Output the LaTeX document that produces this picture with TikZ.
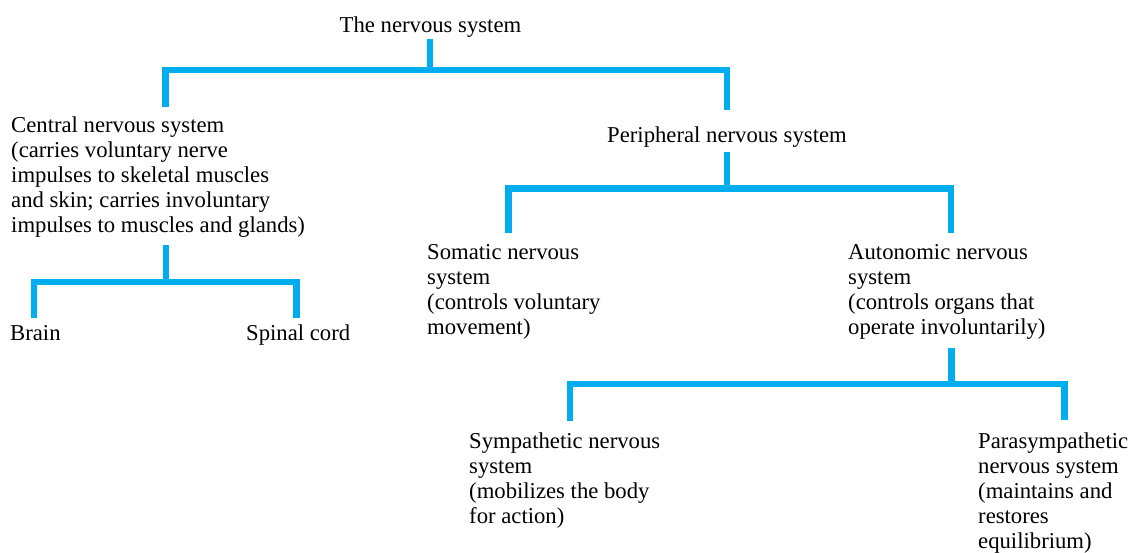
\documentclass[tikz,border=0pt]{standalone}
\usepackage{fontspec}
\setmainfont{Liberation Serif}
\definecolor{nsblue}{RGB}{0,174,239}
\begin{document}
\begin{tikzpicture}[x=1pt,y=1pt,
  lbl/.style={anchor=north west,inner sep=0pt,align=left,font=\fontsize{22.7}{25}\selectfont},
  conn/.style={draw=nsblue,line width=6.5pt,line join=miter,line cap=butt}]
\useasboundingbox (0,0) rectangle (1130,-553);
% texts
\node[lbl,anchor=north] (root) at (430.5,-16.5) {The nervous system};
\node[lbl] (cns) at (11,-116.5) {Central nervous system\\(carries voluntary nerve\\impulses to skeletal muscles\\and skin; carries involuntary\\impulses to muscles and glands)};
\node[lbl,anchor=north] (pns) at (727,-126.5) {Peripheral nervous system};
\node[lbl] (brain) at (10,-325) {Brain};
\node[lbl] (spinal) at (246,-324.5) {Spinal cord};
\node[lbl] (som) at (427,-244.5) {Somatic nervous\\system\\(controls voluntary\\movement)};
\node[lbl] (aut) at (848,-244.5) {Autonomic nervous\\system\\(controls organs that\\operate involuntarily)};
\node[lbl] (sym) at (469,-432.5) {Sympathetic nervous\\system\\(mobilizes the body\\for action)};
\node[lbl] (para) at (978,-432.5) {Parasympathetic\\nervous system\\(maintains and\\restores\\equilibrium)};
% junction coordinates
\coordinate (r0) at (430,-39);
\coordinate (r1) at (430,-70);
\coordinate (cnsTop) at (165.5,-107);
\coordinate (pnsTop) at (727,-110);
\coordinate (c0) at (166,-245);
\coordinate (c1) at (166,-282);
\coordinate (brainTop) at (34,-318);
\coordinate (spinalTop) at (296.5,-318);
\coordinate (p0) at (727,-152);
\coordinate (p1) at (727,-188.5);
\coordinate (somTop) at (508.5,-233);
\coordinate (autTop) at (951,-233);
\coordinate (a0) at (951.5,-348);
\coordinate (a1) at (951.5,-384);
\coordinate (symTop) at (570,-421);
\coordinate (paraTop) at (1064.5,-420);
% connectors
\draw[conn] (r0) -- (r1);
\draw[conn] (cnsTop) |- (r1) -| (pnsTop);
\draw[conn] (c0) -- (c1);
\draw[conn] (brainTop) |- (c1) -| (spinalTop);
\draw[conn] (p0) -- (p1);
\draw[conn] (somTop) |- (p1) -| (autTop);
\draw[conn] (a0) -- (a1);
\draw[conn] (symTop) |- (a1) -| (paraTop);
\end{tikzpicture}
\end{document}
